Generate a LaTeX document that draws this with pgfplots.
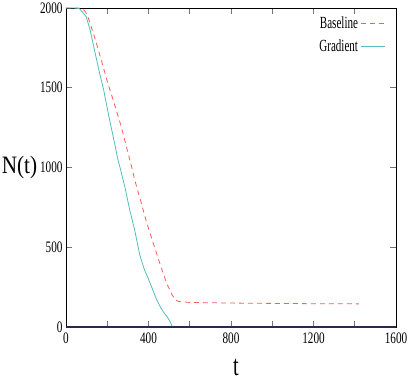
\documentclass[border=0pt]{standalone}
\usepackage{fontspec}
\setmainfont{Liberation Serif}
\usepackage{pgfplots}
\pgfplotsset{compat=1.18}
\definecolor{cbase}{RGB}{255,90,90}
\definecolor{cgrad}{RGB}{80,190,190}
\newcommand\cond[1]{\scalebox{0.7}[1]{#1}}

\begin{document}
\begin{tikzpicture}
\begin{axis}[
    at={(0,0)}, anchor=south west,
    scale only axis, width=330pt, height=319pt,
    xmin=0, xmax=1600, ymin=0, ymax=2000,
    xtick={0,400,...,1600},
    xticklabels={\cond{0},\cond{400},\cond{800},\cond{1200},\cond{1600}},
    minor xtick={200,600,1000,1400},
    ytick={0,500,...,2000},
    yticklabels={\cond{0},\cond{500},\cond{1000},\cond{1500},\cond{2000}},
    tick align=inside, tick pos=both,
    major tick length=6pt, minor tick length=6pt,
    every tick/.style={black!55, line width=0.8pt},
    tick label style={font=\fontsize{16}{16}\selectfont},
    xticklabel style={yshift=-2pt},
    axis line style={line width=0.8pt},
    xlabel={\cond{t}},
    xlabel style={at={(axis description cs:0.5,0)}, anchor=center, inner sep=0pt,
        yshift=-40pt, xshift=5pt, font=\fontsize{29}{29}\selectfont},
    ylabel={\scalebox{0.85}[1]{N(t)}},
    ylabel style={at={(axis description cs:0,0.5)}, rotate=-90, anchor=center,
        xshift=-46.5pt, font=\fontsize{25}{25}\selectfont},
    legend plot pos=right, legend cell align=right,
    legend image code/.code={\draw[#1] (0pt,0pt) -- (24pt,0pt);},
    legend style={at={(axis description cs:1,1)}, anchor=north east,
        xshift=-10pt, yshift=-8pt, draw=none, fill=none, inner sep=0pt,
        row sep=7pt, column sep=2pt, nodes={inner sep=1pt},
        font=\fontsize{17}{17}\selectfont},
    clip=false,
]
\addplot[cbase, line width=0.8pt, dash pattern=on 5pt off 4pt] coordinates {
    (0,2000) (60,2000) (81,1995) (95,1975) (106,1945) (138,1820) (171,1674)
    (203,1528) (236,1392) (268,1256) (293,1130) (320,995) (333,922)
    (361,796) (390,660) (423,525) (455,399) (488,274) (515,200) (530,172)
    (545,160) (600,154) (800,150) (1000,148) (1200,146) (1420,145)
};
\addlegendentry{\scalebox{0.65}[1]{Baseline}}
\addplot[cgrad, line width=0.8pt] coordinates {
    (0,2000) (40,2000) (55,1998) (65,1995) (80,1975) (98,1945) (117,1862)
    (138,1737) (163,1590) (182,1490) (211,1300) (236,1150) (252,1047)
    (263,995) (285,880) (309,734) (333,608) (358,450) (380,360) (400,300)
    (420,235) (440,170) (460,120) (475,90) (495,55) (508,25) (516,0)
};
\addlegendentry{\scalebox{0.65}[1]{Gradient}}
\draw[line width=1.2pt, color={rgb,255:red,40;green,40;blue,80}]
    (rel axis cs:0,0) -- (rel axis cs:1,0);
\end{axis}
\pgfresetboundingbox
\path (-66pt,-55pt) rectangle (343pt,327pt);
\end{tikzpicture}
\end{document}
